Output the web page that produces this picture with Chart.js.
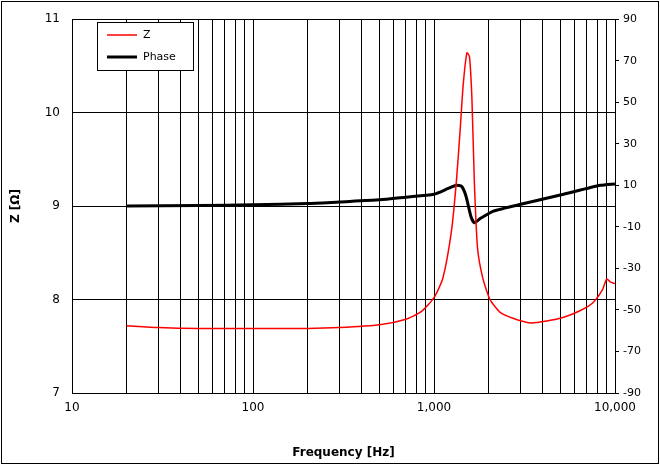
<!DOCTYPE html>
<html>
<head>
<script src="https://cdn.jsdelivr.net/npm/chart.js@4"></script>
<style>body{margin:0;background:#fff}#wrap{width:660px;height:465px}</style>
</head>
<body>
<div id="wrap"><canvas id="c"></canvas></div>
<script>
// Impedance magnitude (ohm) vs frequency
const zFreq = [20, 30, 50, 100, 200, 300, 500, 700, 850, 1000, 1120, 1250, 1330, 1393, 1450, 1520, 1570, 1620, 1670, 1740, 1860, 2040, 2330, 2730, 3400, 4200, 5200, 6400, 7500, 8500, 9000, 9400, 10000];
const zVals = [7.72, 7.70, 7.69, 7.69, 7.69, 7.70, 7.73, 7.79, 7.87, 8.02, 8.23, 8.74, 9.27, 9.8, 10.3, 10.64, 10.6, 10.15, 9.27, 8.55, 8.23, 8.0, 7.86, 7.80, 7.75, 7.77, 7.81, 7.88, 7.96, 8.1, 8.22, 8.19, 8.17];
// Phase (degrees) vs frequency
const phFreq = [20, 50, 100, 200, 300, 500, 700, 1000, 1200, 1330, 1420, 1500, 1600, 1670, 1800, 2130, 3100, 5200, 8300, 10000];
const phVals = [0, 0.3, 0.6, 1.2, 2, 3, 4.3, 5.7, 8.5, 10, 9.5, 5, -5, -8, -6, -2.4, 1.1, 5.7, 10, 10.7];
const leftTicks = [7, 8, 9, 10, 11];
const rightTicks = [-90, -70, -50, -30, -10, 10, 30, 50, 70, 90];

const pts = (xs, ys) => xs.map((x, i) => ({x: x, y: ys[i]}));
const font = {family: 'DejaVu Sans', size: 11};

const framePlugin = {
  id: 'frame',
  afterDraw(chart) {
    const ctx = chart.ctx;
    ctx.save();
    ctx.strokeStyle = '#000';
    ctx.lineWidth = 1;
    ctx.strokeRect(1.5, 1.5, 657, 462);
    // legend box
    const lx = 97, ly = 22, lw = 96, lh = 48;
    ctx.fillStyle = '#fff';
    ctx.fillRect(lx, ly, lw, lh);
    ctx.strokeRect(lx + 0.5, ly + 0.5, lw, lh);
    ctx.font = '11px DejaVu Sans';
    ctx.textBaseline = 'middle';
    chart.data.datasets.forEach((ds, i) => {
      const y = ly + 13 + i * 22;
      ctx.strokeStyle = ds.borderColor;
      ctx.lineWidth = ds.borderWidth;
      ctx.beginPath(); ctx.moveTo(lx + 10, y); ctx.lineTo(lx + 40, y); ctx.stroke();
      ctx.fillStyle = '#000';
      ctx.fillText(ds.label, lx + 46, y);
    });
    ctx.restore();
  }
};

new Chart(document.getElementById('c'), {
  type: 'line',
  data: {
    datasets: [
      {label: 'Z', data: pts(zFreq, zVals), borderColor: '#ff0000', borderWidth: 1.5, pointRadius: 0, yAxisID: 'y', tension: 0.2},
      {label: 'Phase', data: pts(phFreq, phVals), borderColor: '#000000', borderWidth: 3, pointRadius: 0, yAxisID: 'y2', tension: 0.2}
    ]
  },
  options: {
    responsive: true, maintainAspectRatio: false, animation: false,
    layout: {padding: {left: 5, right: 5, top: 17, bottom: 5}},
    plugins: {legend: {display: false}, tooltip: {enabled: false}},
    scales: {
      x: {
        type: 'logarithmic', min: 10, max: 10000,
        afterBuildTicks(s) {
          const t = [];
          for (let d = 10; d < 10000; d *= 10) for (let k = 1; k < 10; k++) t.push({value: d * k});
          t.push({value: 10000});
          s.ticks = t;
        },
        afterFit(s) { s.height = 67; },
        ticks: {color: '#000', font: {family: 'DejaVu Sans', size: 12}, maxRotation: 0, autoSkip: false, padding: 8,
          callback: v => [10, 100, 1000, 10000].includes(v) ? v.toLocaleString('en-US') : ''},
        grid: {color: '#000', drawTicks: false, lineWidth: 1},
        border: {color: '#000'},
        title: {display: true, text: 'Frequency [Hz]', color: '#000', padding: {top: 12, bottom: 0},
          font: {family: 'DejaVu Sans', size: 12, weight: 'bold'}}
      },
      y: {
        position: 'left', min: 7, max: 11,
        afterBuildTicks(s) { s.ticks = leftTicks.map(v => ({value: v})); },
        afterFit(s) { s.width = 67; },
        ticks: {color: '#000', font: {family: 'DejaVu Sans', size: 12}, padding: 12},
        grid: {color: '#000', drawTicks: false},
        border: {color: '#000'},
        title: {display: true, text: 'Z [Ω]', color: '#000', font: {family: 'DejaVu Sans', size: 12, weight: 'bold'}}
      },
      y2: {
        position: 'right', min: -90, max: 90,
        afterBuildTicks(s) { s.ticks = rightTicks.map(v => ({value: v})); },
        afterFit(s) { s.width = 40; },
        ticks: {color: '#000', font: font, padding: 4},
        grid: {drawOnChartArea: false, color: '#000', tickLength: 4},
        border: {color: '#000'}
      }
    }
  },
  plugins: [framePlugin]
});
</script>
</body>
</html>
